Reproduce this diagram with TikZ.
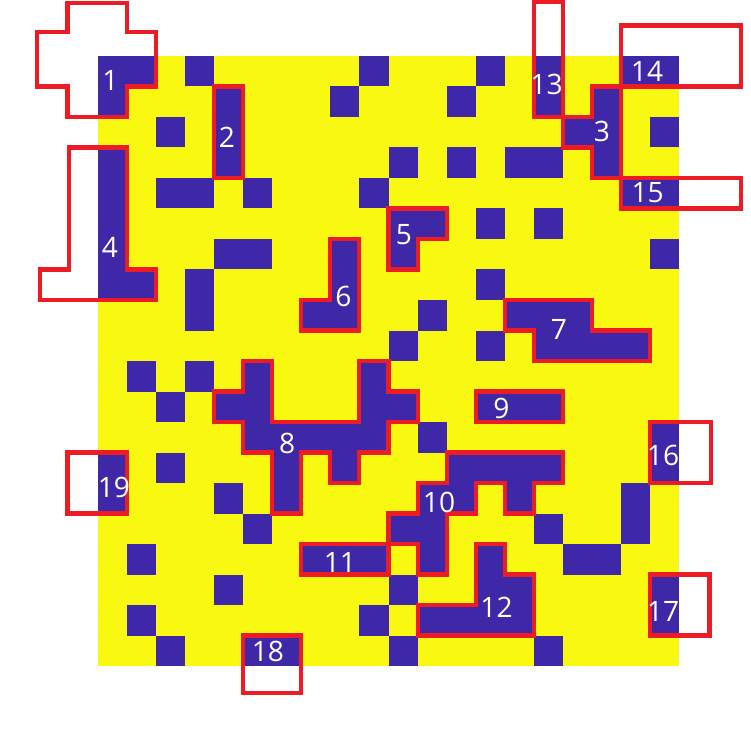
\documentclass[tikz,border=0pt]{standalone}
\usepackage{fontspec}
\setmainfont{Open Sans}
\definecolor{gridyellow}{RGB}{248,248,16}
\definecolor{cellblue}{RGB}{62,40,168}
\definecolor{rgnred}{RGB}{237,28,36}
\tikzset{
  blk/.style = {fill=cellblue},
  rgn/.style = {draw=rgnred, line width=2.3pt},
  lbl/.style = {text=white, inner sep=0pt, font=\fontsize{16}{16}\selectfont},
}
\begin{document}
\begin{tikzpicture}[x=0.581cm, y=-0.61cm]
\useasboundingbox (-3.3735,-1.836) rectangle (22.444,22.754);

%% ── Grid background ──────────────────────────────────────────────────────────
\fill[gridyellow] (0,0) rectangle (20,20);

%% ── Blue cells (row / columns) ───────────────────────────────────────────────
\foreach \r/\cs in {0/{0,1,3,9,13,15,18,19}, 1/{0,4,8,12,15,17}, 2/{2,4,16,17,19},
    3/{0,4,10,12,14,15,17}, 4/{0,2,3,5,9,18,19}, 5/{0,10,11,13,15},
    6/{0,4,5,8,10,19}, 7/{0,1,3,8,13}, 8/{3,7,8,11,14,15,16},
    9/{10,13,15,16,17,18}, 10/{1,3,5,9}, 11/{2,4,5,9,10,13,14,15},
    12/{5,6,7,8,9,11,19}, 13/{0,2,6,8,12,13,14,15,19}, 14/{0,4,6,11,12,14,18},
    15/{5,10,11,15,18}, 16/{1,7,8,9,11,13,16,17}, 17/{4,10,13,14,19},
    18/{1,9,11,12,13,14,19}, 19/{2,5,6,10,15}}
  \foreach \c in \cs
    \fill[blk] (\c,\r) rectangle ++(1,1);

%% ── Region outlines ──────────────────────────────────────────────────────────
\draw[rgn] (-1.05,-1.75) -- (1,-1.75) -- (1,-0.8) -- (2,-0.8) -- (2,1) -- (1,1)
    -- (1,2) -- (-1.05,2) -- (-1.05,1) -- (-2.1,1) -- (-2.1,-0.8) -- (-1.05,-0.8) -- cycle;
\draw[rgn] (4,1) -- (5,1) -- (5,4) -- (4,4) -- cycle;
\draw[rgn] (17,1) -- (18,1) -- (18,4) -- (17,4) -- (17,3) -- (16,3) -- (16,2) -- (17,2) -- cycle;
\draw[rgn] (-1,3) -- (1,3) -- (1,7) -- (2,7) -- (2,8) -- (-2,8) -- (-2,7) -- (-1,7) -- cycle;
\draw[rgn] (10,5) -- (12,5) -- (12,6) -- (11,6) -- (11,7) -- (10,7) -- cycle;
\draw[rgn] (8,6) -- (9,6) -- (9,9) -- (7,9) -- (7,8) -- (8,8) -- cycle;
\draw[rgn] (14,8) -- (17,8) -- (17,9) -- (19,9) -- (19,10) -- (15,10) -- (15,9) -- (14,9) -- cycle;
\draw[rgn] (5,10) -- (6,10) -- (6,12) -- (9,12) -- (9,10) -- (10,10) -- (10,11) -- (11,11)
    -- (11,12) -- (10,12) -- (10,13) -- (9,13) -- (9,14) -- (8,14) -- (8,13) -- (7,13)
    -- (7,15) -- (6,15) -- (6,13) -- (5,13) -- (5,12) -- (4,12) -- (4,11) -- (5,11) -- cycle;
\draw[rgn] (13,11) -- (16,11) -- (16,12) -- (13,12) -- cycle;
\draw[rgn] (12,13) -- (16,13) -- (16,14) -- (15,14) -- (15,15) -- (14,15) -- (14,14) -- (13,14)
    -- (13,15) -- (12,15) -- (12,17) -- (11,17) -- (11,16) -- (10,16) -- (10,15) -- (11,15)
    -- (11,14) -- (12,14) -- cycle;
\draw[rgn] (7,16) -- (10,16) -- (10,17) -- (7,17) -- cycle;
\draw[rgn] (13,16) -- (14,16) -- (14,17) -- (15,17) -- (15,19) -- (11,19) -- (11,18) -- (13,18) -- cycle;
\draw[rgn] (15,-1.77) -- (16,-1.77) -- (16,2) -- (15,2) -- cycle;
\draw[rgn] (18,-1) -- (22.13,-1) -- (22.13,1) -- (18,1) -- cycle;
\draw[rgn] (18,4) -- (22.15,4) -- (22.15,5) -- (18,5) -- cycle;
\draw[rgn] (19,12) -- (21.1,12) -- (21.1,14) -- (19,14) -- cycle;
\draw[rgn] (19,17) -- (21.05,17) -- (21.05,19) -- (19,19) -- cycle;
\draw[rgn] (5,19) -- (7,19) -- (7,20.9) -- (5,20.9) -- cycle;
\draw[rgn] (-1.05,13) -- (1,13) -- (1,15) -- (-1.05,15) -- cycle;

%% ── Region labels ────────────────────────────────────────────────────────────
\node[lbl] (l1)  at ( 0.43, 0.80) {1};
\node[lbl] (l2)  at ( 4.44, 2.66) {2};
\node[lbl] (l3)  at (17.35, 2.48) {3};
\node[lbl] (l4)  at ( 0.41, 6.26) {4};
\node[lbl] (l5)  at (10.53, 5.87) {5};
\node[lbl] (l6)  at ( 8.45, 7.89) {6};
\node[lbl] (l7)  at (15.87, 8.98) {7};
\node[lbl] (l8)  at ( 6.51,12.69) {8};
\node[lbl] (l9)  at (13.89,11.54) {9};
\node[lbl] (l10) at (11.74,14.64) {10};
\node[lbl] (l11) at ( 8.33,16.61) {11};
\node[lbl] (l12) at (13.72,18.08) {12};
\node[lbl] (l13) at (15.44, 0.93) {13};
\node[lbl] (l14) at (18.90, 0.49) {14};
\node[lbl] (l15) at (18.92, 4.48) {15};
\node[lbl] (l16) at (19.45,13.11) {16};
\node[lbl] (l17) at (19.45,18.20) {17};
\node[lbl] (l18) at ( 5.85,19.51) {18};
\node[lbl] (l19) at ( 0.55,14.15) {19};

\end{tikzpicture}
\end{document}
